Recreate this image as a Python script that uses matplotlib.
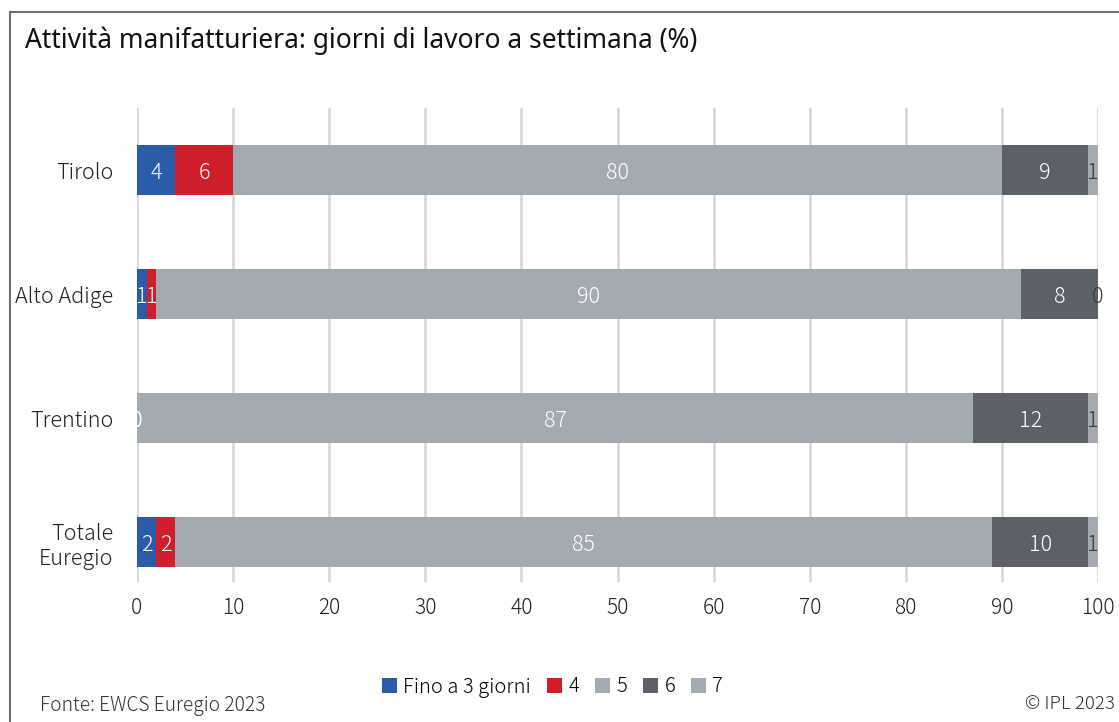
import matplotlib.pyplot as plt
from matplotlib.patches import Rectangle, Patch
import numpy as np

plt.rcParams['font.family'] = ['Noto Sans CJK JP', 'DejaVu Sans']

regioni = ['Tirolo', 'Alto Adige', 'Trentino', 'Totale\nEuregio']
serie = ['Fino a 3 giorni', '4', '5', '6', '7']
valori = {
    'Fino a 3 giorni': [4, 1, 0, 2],
    '4': [6, 1, 0, 2],
    '5': [80, 90, 87, 85],
    '6': [9, 8, 12, 10],
    '7': [1, 0, 1, 1],
}
colori = ['#2a5caa', '#d01f2b', '#a3aab2', '#5c6168', '#a3aab2']
col_testo = ['white', 'white', 'white', 'white', '#3a3a3a']

fig = plt.figure(figsize=(11.19, 7.22), dpi=100)
ax = fig.add_axes([137 / 1119, 1 - 582 / 722, 961 / 1119, 474 / 722])

y = np.arange(len(regioni))
left = np.zeros(len(regioni))
for s, c, tc in zip(serie, colori, col_testo):
    v = np.array(valori[s], dtype=float)
    ax.barh(y, v, left=left, height=0.40, color=c, zorder=3)
    for yi, l, w in zip(y, left, v):
        ax.text(l + w / 2, yi + 0.02, f'{w:g}', ha='center', va='center',
                color=tc, fontsize=15.5, fontweight='light', zorder=4)
    left += v

ax.set_xlim(0, 100)
ax.set_ylim(3.32, -0.5)
ax.set_xticks(range(0, 101, 10))
ax.set_yticks(y)
ax.set_yticklabels(regioni, fontsize=15.5, fontweight='light', color='#222222')
ax.tick_params(axis='x', labelsize=15, colors='#222222', length=0, pad=11)
ax.tick_params(axis='y', length=0, pad=17)
for lab in ax.get_xticklabels():
    lab.set_fontweight('light')
ax.grid(axis='x', color='#d9d9d9', linewidth=2, zorder=0)
for sp in ax.spines.values():
    sp.set_visible(False)

# legenda in basso
handles = [Patch(facecolor=c, label=s) for s, c in zip(serie, colori)]
leg = fig.legend(handles=handles, loc='center', bbox_to_anchor=(0.494, 1 - 687 / 722),
                 ncol=5, frameon=False, handlelength=0.75,
                 handleheight=0.75, handletextpad=0.3, columnspacing=0.8,
                 prop={'weight': 'light', 'size': 14.5})

fig.text(25 / 1119, 1 - 41 / 722, 'Attività manifatturiera: giorni di lavoro a settimana (%)',
         fontsize=19, family='Noto Sans', va='center', ha='left', color='#111111')
fig.text(40 / 1119, 1 - 705 / 722, 'Fonte: EWCS Euregio 2023', fontsize=13.8,
         fontweight='light', va='center', ha='left', color='#333333')
fig.text(1115 / 1119, 1 - 704 / 722, '© IPL 2023', fontsize=13.5,
         fontweight='light', va='center', ha='right', color='#333333')

fig.patches.append(Rectangle((10 / 1119, -0.1), 1.2, 1 - 12 / 722 + 0.1,
                             transform=fig.transFigure, fill=False,
                             edgecolor='#6e6e6e', linewidth=1.5))

fig.savefig('out.png', dpi=100)
